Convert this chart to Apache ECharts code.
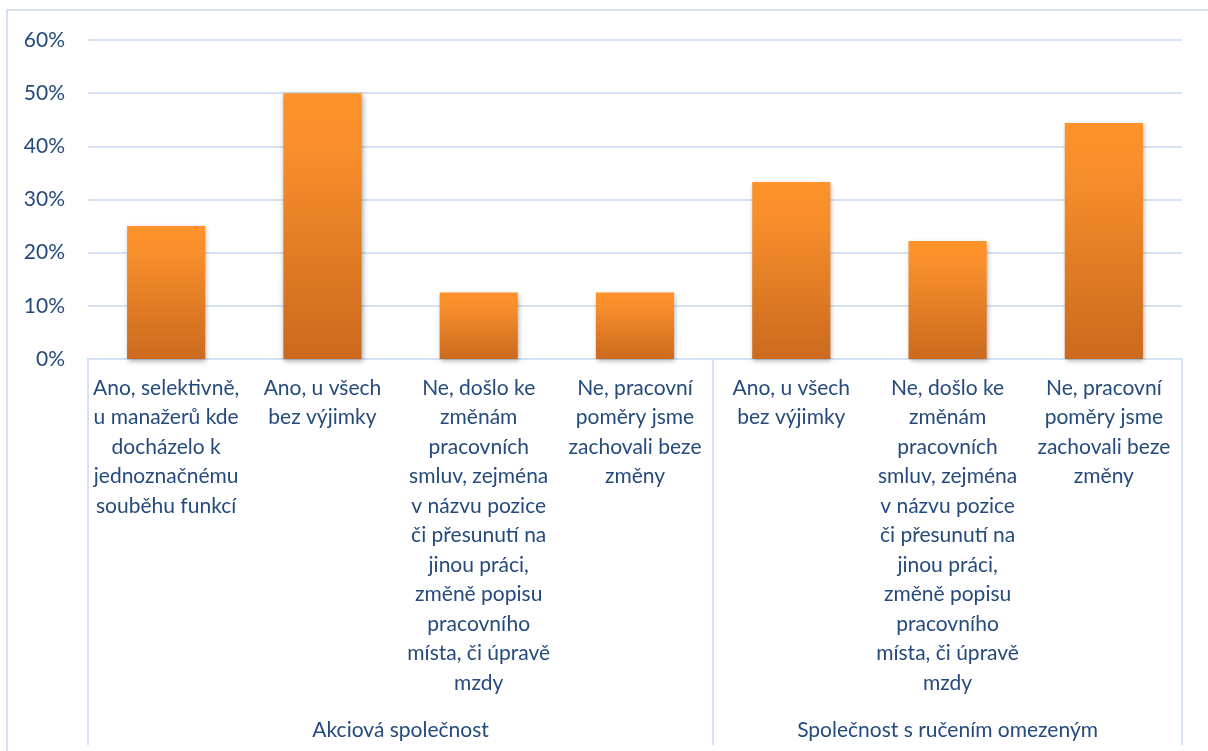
<!DOCTYPE html>
<html>
<head>
<meta charset="utf-8">
<script src="https://cdn.jsdelivr.net/npm/echarts@6/dist/echarts.min.js"></script>
<style>
html,body{margin:0;padding:0;background:#fff;}
#chart{width:1208px;height:751px;}
</style>
</head>
<body>
<div id="chart"></div>
<script>
const categories = [
  "Ano, selektivně,\nu manažerů kde\ndocházelo k\njednoznačnému\nsouběhu funkcí",
  "Ano, u všech\nbez výjimky",
  "Ne, došlo ke\nzměnám\npracovních\nsmluv, zejména\nv názvu pozice\nči přesunutí na\njinou práci,\nzměně popisu\npracovního\nmísta, či úpravě\nmzdy",
  "Ne, pracovní\npoměry jsme\nzachovali beze\nzměny",
  "Ano, u všech\nbez výjimky",
  "Ne, došlo ke\nzměnám\npracovních\nsmluv, zejména\nv názvu pozice\nči přesunutí na\njinou práci,\nzměně popisu\npracovního\nmísta, či úpravě\nmzdy",
  "Ne, pracovní\npoměry jsme\nzachovali beze\nzměny"
];
const values = [0.25, 0.50, 0.125, 0.125, 0.333, 0.222, 0.444];
const groupNames = ["Akciová společnost", "Společnost s ručením omezeným"];
const groupSizes = [4, 3];
const yTicks = [0, 0.1, 0.2, 0.3, 0.4, 0.5, 0.6];

const textColor = '#254A7C';
const lineColor = '#D6E2F2';
const font = 'Lato';
const fs = 21;

// group boundaries and centers in category units
const bounds = [0];
groupSizes.forEach(s => bounds.push(bounds[bounds.length - 1] + s));
const centers = groupSizes.map((s, i) => bounds[i] + s / 2);

const chart = echarts.init(document.getElementById('chart'));
chart.setOption({
  animation: false,
  backgroundColor: '#fff',
  graphic: [{
    type: 'rect',
    shape: { x: 7, y: 10, width: 1400, height: 900 },
    style: { fill: 'none', stroke: lineColor, lineWidth: 2 },
    z: -1
  }],
  grid: { left: 88, right: 26, top: 40, bottom: 392 },
  xAxis: [{
    type: 'category',
    data: categories,
    position: 'bottom',
    axisLine: { show: true, lineStyle: { color: lineColor, width: 2 } },
    axisTick: { show: false },
    axisLabel: {
      interval: 0,
      color: textColor,
      fontFamily: font,
      fontSize: fs,
      lineHeight: 29.5,
      margin: 14,
      align: 'center'
    }
  }, {
    type: 'value',
    min: 0,
    max: bounds[bounds.length - 1],
    position: 'bottom',
    axisLine: { show: false },
    splitLine: { show: false },
    axisTick: {
      show: true,
      customValues: bounds,
      length: 386,
      lineStyle: { color: lineColor, width: 2 }
    },
    axisLabel: {
      customValues: centers,
      formatter: function (v) {
        const i = centers.indexOf(v);
        return i >= 0 ? groupNames[i] : '';
      },
      color: textColor,
      fontFamily: font,
      fontSize: fs,
      margin: 361
    }
  }],
  yAxis: {
    type: 'value',
    min: yTicks[0],
    max: yTicks[yTicks.length - 1],
    interval: 0.1,
    axisLine: { show: false },
    axisTick: { show: false },
    splitLine: { lineStyle: { color: lineColor, width: 2 } },
    axisLabel: {
      color: textColor,
      fontFamily: font,
      fontSize: fs,
      margin: 23,
      formatter: v => Math.round(v * 100) + '%'
    }
  },
  series: [{
    type: 'bar',
    xAxisIndex: 0,
    data: values,
    barWidth: '50%',
    itemStyle: {
      color: new echarts.graphic.LinearGradient(0, 0, 0, 1, [
        { offset: 0, color: '#FF9229' },
        { offset: 0.2, color: '#F88F2C' },
        { offset: 1, color: '#CB6A1E' }
      ]),
      shadowColor: 'rgba(0,0,0,0.35)',
      shadowBlur: 5,
      shadowOffsetX: 1,
      shadowOffsetY: 2
    }
  }]
});
</script>
</body>
</html>
